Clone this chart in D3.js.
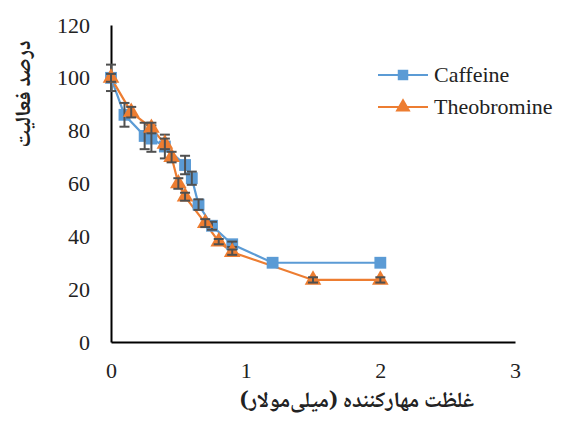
<!DOCTYPE html>
<html><head><meta charset="utf-8">
<script src="https://cdn.jsdelivr.net/npm/d3@7"></script>
<style>body{margin:0;background:#fff}</style>
</head><body>
<svg id="c" width="563" height="423"></svg>
<script>
const caffeineX = [0, 0.1, 0.25, 0.3, 0.4, 0.55, 0.6, 0.65, 0.75, 0.9, 1.2, 2.0];
const caffeineY = [100, 86, 78, 77, 74, 67, 62, 52, 44, 37, 30, 30];
const caffeineErr = [5, 4.5, 5, 5, 4.5, 3.5, 2.5, 2, 1.5, 1, 0, 0];
const theoX = [0, 0.15, 0.3, 0.4, 0.45, 0.5, 0.55, 0.7, 0.8, 0.9, 1.5, 2.0];
const theoY = [100, 87, 81, 75, 70, 60, 55, 45, 38, 34, 23.5, 23.5];
const theoErr = [1.5, 2, 2, 2, 2, 2, 1.5, 1.5, 1, 1, 1, 1];
const xTicks = [0, 1, 2, 3];
const yTicks = [0, 20, 40, 60, 80, 100, 120];
const seriesNames = ["Caffeine", "Theobromine"];
const yTitle = "درصد فعالیت";
const xTitle = "غلظت مهارکننده (میلی‌مولار)";

const SERIF = '"Liberation Serif", "Times New Roman", serif';
const FA = '"Noto Naskh Arabic", "DejaVu Sans", sans-serif';

const svg = d3.select("#c");
const x = d3.scaleLinear().domain([0, 3]).range([111, 515]);
const y = d3.scaleLinear().domain([0, 120]).range([342, 25]);

// axes
const xAxis = d3.axisBottom(x).tickValues(xTicks).tickSize(0).tickPadding(20).tickFormat(d3.format("d"));
const gx = svg.append("g").attr("transform", "translate(0,342)").call(xAxis);
gx.select(".domain").attr("stroke", "#000").attr("stroke-width", 2);
gx.selectAll("text").style("font-family", SERIF).style("font-size", "22px").attr("fill", "#222");

const yAxis = d3.axisLeft(y).tickValues(yTicks).tickSize(0).tickPadding(21).tickFormat(d3.format("d"));
const gy = svg.append("g").attr("transform", "translate(111,0)").call(yAxis);
gy.select(".domain").attr("stroke", "#000").attr("stroke-width", 2);
gy.selectAll("text").style("font-family", SERIF).style("font-size", "22px").attr("fill", "#222");

const series = [
  {name: seriesNames[0], xs: caffeineX, ys: caffeineY, es: caffeineErr, color: "#5B9BD5", shape: d3.symbolSquare},
  {name: seriesNames[1], xs: theoX, ys: theoY, es: theoErr, color: "#ED7D31", shape: d3.symbolTriangle}
];

const line = d3.line().x(d => x(d[0])).y(d => y(d[1]));

series.forEach(s => {
  const pts = s.xs.map((v, i) => [v, s.ys[i], s.es[i]]);
  svg.append("path").datum(pts).attr("d", line).attr("fill", "none")
    .attr("stroke", s.color).attr("stroke-width", 2.2);
});

series.forEach(s => {
  const pts = s.xs.map((v, i) => [v, s.ys[i], s.es[i]]);
  const g = svg.append("g");
  g.selectAll("path.m").data(pts).join("path")
    .attr("transform", d => `translate(${x(d[0])},${y(d[1])})`)
    .attr("d", d3.symbol().type(s.shape).size(s.shape === d3.symbolSquare ? 140 : 120))
    .attr("fill", s.color);
  const eb = svg.append("g").attr("stroke", "#505050").attr("stroke-width", 2);
  pts.filter(d => d[2] > 0).forEach(d => {
    const cx = x(d[0]);
    eb.append("line").attr("x1", cx).attr("x2", cx).attr("y1", y(d[1] - d[2])).attr("y2", y(d[1] + d[2]));
    eb.append("line").attr("x1", cx - 5).attr("x2", cx + 5).attr("y1", y(d[1] + d[2])).attr("y2", y(d[1] + d[2]));
    eb.append("line").attr("x1", cx - 5).attr("x2", cx + 5).attr("y1", y(d[1] - d[2])).attr("y2", y(d[1] - d[2]));
  });
});

// legend
series.forEach((s, i) => {
  const ly = 75 + i * 32;
  svg.append("line").attr("x1", 378).attr("x2", 428).attr("y1", ly).attr("y2", ly)
    .attr("stroke", s.color).attr("stroke-width", 2.2);
  svg.append("path").attr("transform", `translate(403,${ly})`)
    .attr("d", d3.symbol().type(s.shape).size(s.shape === d3.symbolSquare ? 110 : 100))
    .attr("fill", s.color);
  svg.append("text").attr("x", 434).attr("y", ly + 7).text(s.name)
    .style("font-family", SERIF).style("font-size", "22px").attr("fill", "#222");
});

// titles
svg.append("text").attr("transform", "translate(30,94) rotate(-90)")
  .attr("text-anchor", "middle").style("font-family", FA).style("font-weight", "bold")
  .style("font-size", "22px").attr("direction", "rtl")
  .attr("fill", "#222").text(yTitle);
svg.append("text").attr("x", 357).attr("y", 407)
  .attr("text-anchor", "middle").style("font-family", FA).style("font-weight", "bold")
  .style("font-size", "22px").attr("direction", "rtl")
  .attr("fill", "#222").text(xTitle);
</script>
</body></html>
